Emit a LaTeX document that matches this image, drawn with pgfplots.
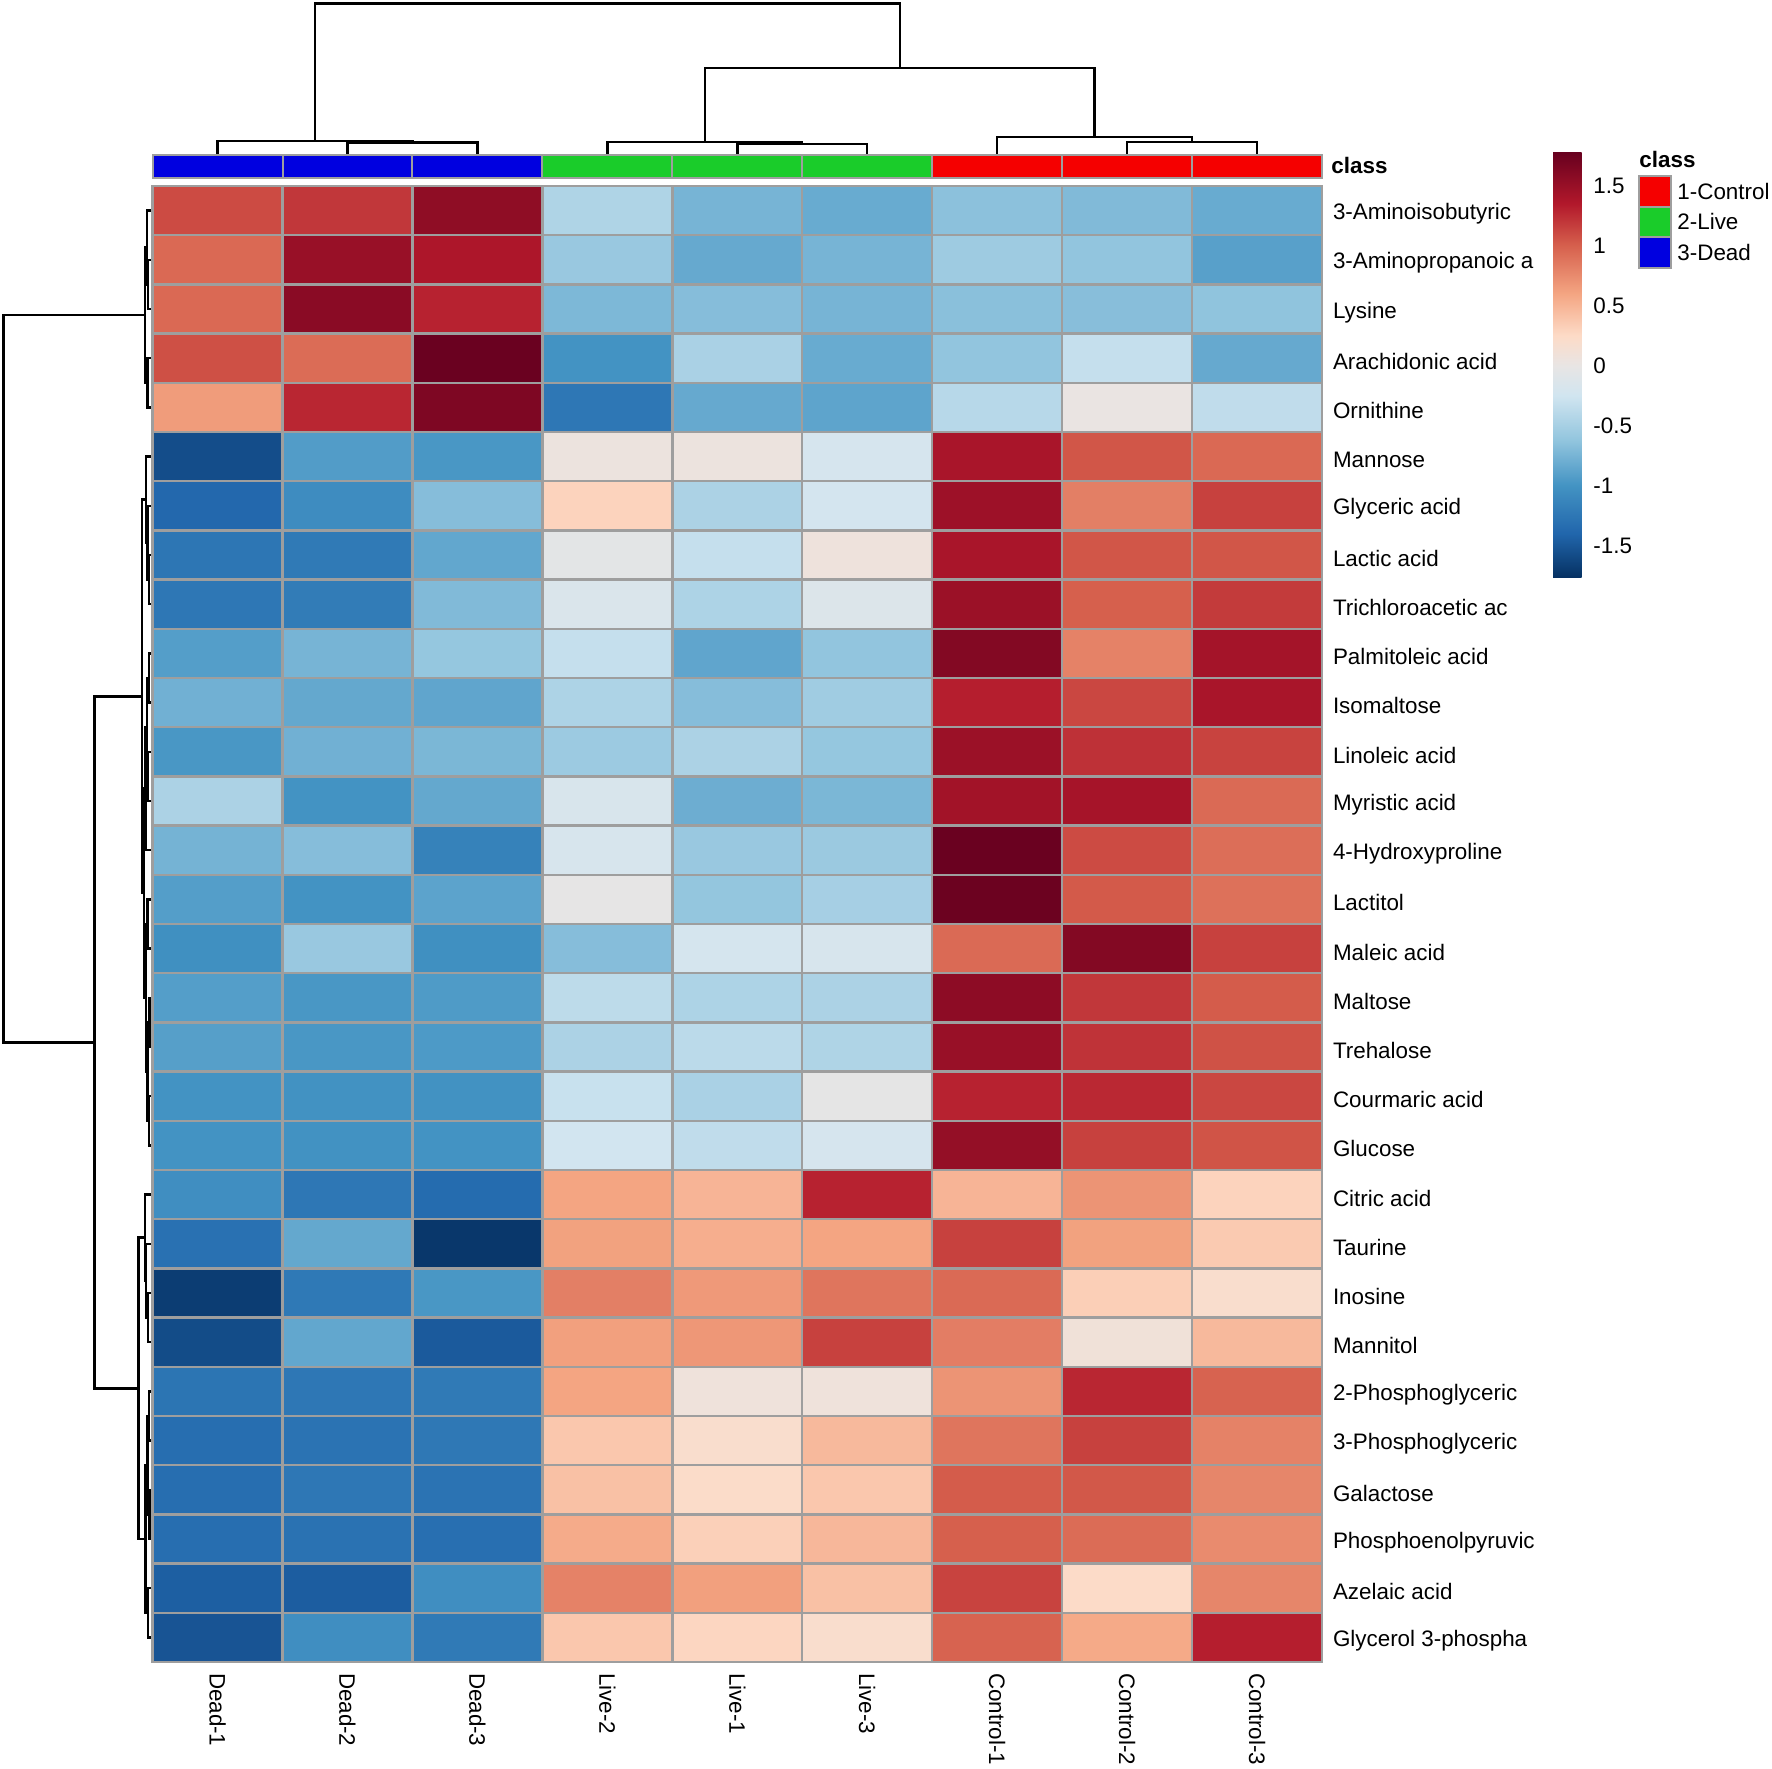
\documentclass[border=0pt]{standalone}
\usepackage{pgfplots}
\pgfplotsset{compat=1.18}
\usetikzlibrary{calc}
\usepackage{fontspec}
\setmainfont{Liberation Sans}
\newcommand\lbl{\fontsize{11.2pt}{13.4pt}\selectfont}
\definecolor{cgray}{RGB}{158,158,158}
\definecolor{cdead}{RGB}{0,0,224}
\definecolor{clive}{RGB}{26,204,42}
\definecolor{cctrl}{RGB}{245,0,0}
\pgfplotsset{dendro/.style={black, line width=1.2pt, line join=miter, line cap=rect}}
\begin{document}
\begin{tikzpicture}
\path (0,0) rectangle (886pt,884pt);
\begin{axis}[
  at={(76.3pt,791pt)}, anchor=north west,
  scale only axis, width=584.7pt, height=738pt,
  xmin=0, xmax=9, ymin=0, ymax=30, clip=false,
  colormap={rdbu}{rgb255(0cm)=(5,48,97); rgb255(0.37cm)=(33,102,172); rgb255(0.77cm)=(67,147,195); rgb255(1.15cm)=(146,197,222); rgb255(1.52cm)=(209,229,240); rgb255(1.77cm)=(232,229,228); rgb255(2.02cm)=(253,219,199); rgb255(2.37cm)=(244,165,130); rgb255(2.77cm)=(214,96,77); rgb255(3.12cm)=(178,24,43); rgb255(3.55cm)=(103,0,31)},
  point meta min=-1.77, point meta max=1.78,
  xtick={0.5,1.5,...,8.5},
  xticklabels={Dead-1,Dead-2,Dead-3,Live-2,Live-1,Live-3,Control-1,Control-2,Control-3},
  ytick={0.5,1.5,...,29.5},
  yticklabels={Glycerol 3-phospha,Azelaic acid,Phosphoenolpyruvic,Galactose,3-Phosphoglyceric,2-Phosphoglyceric,Mannitol,Inosine,Taurine,Citric acid,Glucose,Courmaric acid,Trehalose,Maltose,Maleic acid,Lactitol,4-Hydroxyproline,Myristic acid,Linoleic acid,Isomaltose,Palmitoleic acid,Trichloroacetic ac,Lactic acid,Glyceric acid,Mannose,Ornithine,Arachidonic acid,Lysine,3-Aminopropanoic a,3-Aminoisobutyric},
  major tick length=0pt, minor tick length=0pt,
  minor xtick={0,1,...,9}, minor ytick={0,1,...,30},
  xminorgrids, yminorgrids,
  minor grid style={cgray, line width=1.2pt},
  axis line style={cgray, line width=1.2pt},
  axis on top,
  yticklabel pos=right,
  xticklabel style={font=\lbl, rotate=-90, anchor=west, inner sep=0pt},
  xticklabel shift=5.3pt,
  yticklabel style={font=\lbl, anchor=west, inner sep=0pt, yshift=-1.7pt},
  yticklabel shift=5.3pt,
  colorbar,
  colorbar style={
    at={($(parent axis.north east)+(107pt,17pt)$)}, anchor=north west,
    scale only axis, width=14.5pt, height=213pt,
    ytick={-1.5,-1,-0.5,0,0.5,1,1.5},
    yticklabels={-1.5,-1,-0.5,0,0.5,1,1.5},
    minor ytick={}, minor xtick={}, yminorgrids=false, xminorgrids=false,
    axis line style={draw=none},
    major tick length=0pt,
    yticklabel pos=right,
    yticklabel style={font=\lbl, anchor=west, inner sep=0pt, yshift=0pt},
    yticklabel shift=5.5pt,
  },
]
\addplot[matrix plot*, mesh/cols=9, mesh/rows=30, point meta=explicit]
  table[row sep=\\, meta=c] {
x y c \\
0.5 0.5 -1.52 \\ 1.5 0.5 -1.04 \\ 2.5 0.5 -1.22 \\ 3.5 0.5 0.38 \\ 4.5 0.5 0.28 \\ 5.5 0.5 0.2 \\ 6.5 0.5 0.98 \\ 7.5 0.5 0.57 \\ 8.5 0.5 1.32 \\
0.5 1.5 -1.45 \\ 1.5 1.5 -1.46 \\ 2.5 1.5 -1.04 \\ 3.5 1.5 0.8 \\ 4.5 1.5 0.63 \\ 5.5 1.5 0.42 \\ 6.5 1.5 1.14 \\ 7.5 1.5 0.24 \\ 8.5 1.5 0.78 \\
0.5 2.5 -1.33 \\ 1.5 2.5 -1.29 \\ 2.5 2.5 -1.32 \\ 3.5 2.5 0.56 \\ 4.5 2.5 0.32 \\ 5.5 2.5 0.48 \\ 6.5 2.5 1.0 \\ 7.5 2.5 0.93 \\ 8.5 2.5 0.75 \\
0.5 3.5 -1.33 \\ 1.5 3.5 -1.25 \\ 2.5 3.5 -1.28 \\ 3.5 3.5 0.42 \\ 4.5 3.5 0.23 \\ 5.5 3.5 0.38 \\ 6.5 3.5 1.02 \\ 7.5 3.5 1.04 \\ 8.5 3.5 0.78 \\
0.5 4.5 -1.33 \\ 1.5 4.5 -1.28 \\ 2.5 4.5 -1.24 \\ 3.5 4.5 0.38 \\ 4.5 4.5 0.2 \\ 5.5 4.5 0.47 \\ 6.5 4.5 0.88 \\ 7.5 4.5 1.15 \\ 8.5 4.5 0.8 \\
0.5 5.5 -1.27 \\ 1.5 5.5 -1.25 \\ 2.5 5.5 -1.22 \\ 3.5 5.5 0.6 \\ 4.5 5.5 0.08 \\ 5.5 5.5 0.08 \\ 6.5 5.5 0.7 \\ 7.5 5.5 1.28 \\ 8.5 5.5 0.98 \\
0.5 6.5 -1.58 \\ 1.5 6.5 -0.85 \\ 2.5 6.5 -1.48 \\ 3.5 6.5 0.63 \\ 4.5 6.5 0.68 \\ 5.5 6.5 1.15 \\ 6.5 6.5 0.83 \\ 7.5 6.5 0.1 \\ 8.5 6.5 0.47 \\
0.5 7.5 -1.68 \\ 1.5 7.5 -1.23 \\ 2.5 7.5 -0.97 \\ 3.5 7.5 0.82 \\ 4.5 7.5 0.67 \\ 5.5 7.5 0.88 \\ 6.5 7.5 0.94 \\ 7.5 7.5 0.33 \\ 8.5 7.5 0.2 \\
0.5 8.5 -1.3 \\ 1.5 8.5 -0.84 \\ 2.5 8.5 -1.72 \\ 3.5 8.5 0.62 \\ 4.5 8.5 0.54 \\ 5.5 8.5 0.6 \\ 6.5 8.5 1.15 \\ 7.5 8.5 0.62 \\ 8.5 8.5 0.36 \\
0.5 9.5 -1.04 \\ 1.5 9.5 -1.25 \\ 2.5 9.5 -1.35 \\ 3.5 9.5 0.6 \\ 4.5 9.5 0.5 \\ 5.5 9.5 1.3 \\ 6.5 9.5 0.5 \\ 7.5 9.5 0.7 \\ 8.5 9.5 0.3 \\
0.5 10.5 -1.0 \\ 1.5 10.5 -1.01 \\ 2.5 10.5 -1.0 \\ 3.5 10.5 -0.24 \\ 4.5 10.5 -0.35 \\ 5.5 10.5 -0.2 \\ 6.5 10.5 1.52 \\ 7.5 10.5 1.15 \\ 8.5 10.5 1.06 \\
0.5 11.5 -1.0 \\ 1.5 11.5 -1.01 \\ 2.5 11.5 -1.01 \\ 3.5 11.5 -0.3 \\ 4.5 11.5 -0.48 \\ 5.5 11.5 -0.03 \\ 6.5 11.5 1.3 \\ 7.5 11.5 1.27 \\ 8.5 11.5 1.12 \\
0.5 12.5 -0.91 \\ 1.5 12.5 -0.97 \\ 2.5 12.5 -0.95 \\ 3.5 12.5 -0.47 \\ 4.5 12.5 -0.38 \\ 5.5 12.5 -0.45 \\ 6.5 12.5 1.5 \\ 7.5 12.5 1.22 \\ 8.5 12.5 1.07 \\
0.5 13.5 -0.92 \\ 1.5 13.5 -0.97 \\ 2.5 13.5 -0.94 \\ 3.5 13.5 -0.37 \\ 4.5 13.5 -0.46 \\ 5.5 13.5 -0.47 \\ 6.5 13.5 1.56 \\ 7.5 13.5 1.2 \\ 8.5 13.5 1.02 \\
0.5 14.5 -1.03 \\ 1.5 14.5 -0.58 \\ 2.5 14.5 -1.03 \\ 3.5 14.5 -0.68 \\ 4.5 14.5 -0.21 \\ 5.5 14.5 -0.19 \\ 6.5 14.5 0.94 \\ 7.5 14.5 1.62 \\ 8.5 14.5 1.15 \\
0.5 15.5 -0.92 \\ 1.5 15.5 -1.0 \\ 2.5 15.5 -0.88 \\ 3.5 15.5 -0.02 \\ 4.5 15.5 -0.61 \\ 5.5 15.5 -0.5 \\ 6.5 15.5 1.75 \\ 7.5 15.5 1.03 \\ 8.5 15.5 0.9 \\
0.5 16.5 -0.76 \\ 1.5 16.5 -0.68 \\ 2.5 16.5 -1.15 \\ 3.5 16.5 -0.18 \\ 4.5 16.5 -0.58 \\ 5.5 16.5 -0.57 \\ 6.5 16.5 1.76 \\ 7.5 16.5 1.1 \\ 8.5 16.5 0.92 \\
0.5 17.5 -0.47 \\ 1.5 17.5 -1.0 \\ 2.5 17.5 -0.84 \\ 3.5 17.5 -0.17 \\ 4.5 17.5 -0.8 \\ 5.5 17.5 -0.73 \\ 6.5 17.5 1.44 \\ 7.5 17.5 1.42 \\ 8.5 17.5 0.94 \\
0.5 18.5 -0.97 \\ 1.5 18.5 -0.78 \\ 2.5 18.5 -0.73 \\ 3.5 18.5 -0.56 \\ 4.5 18.5 -0.47 \\ 5.5 18.5 -0.6 \\ 6.5 18.5 1.48 \\ 7.5 18.5 1.23 \\ 8.5 18.5 1.14 \\
0.5 19.5 -0.78 \\ 1.5 19.5 -0.84 \\ 2.5 19.5 -0.86 \\ 3.5 19.5 -0.46 \\ 4.5 19.5 -0.68 \\ 5.5 19.5 -0.54 \\ 6.5 19.5 1.32 \\ 7.5 19.5 1.12 \\ 8.5 19.5 1.4 \\
0.5 20.5 -0.92 \\ 1.5 20.5 -0.75 \\ 2.5 20.5 -0.6 \\ 3.5 20.5 -0.32 \\ 4.5 20.5 -0.86 \\ 5.5 20.5 -0.62 \\ 6.5 20.5 1.62 \\ 7.5 20.5 0.8 \\ 8.5 20.5 1.43 \\
0.5 21.5 -1.25 \\ 1.5 21.5 -1.2 \\ 2.5 21.5 -0.7 \\ 3.5 21.5 -0.15 \\ 4.5 21.5 -0.46 \\ 5.5 21.5 -0.13 \\ 6.5 21.5 1.48 \\ 7.5 21.5 1.0 \\ 8.5 21.5 1.18 \\
0.5 22.5 -1.26 \\ 1.5 22.5 -1.22 \\ 2.5 22.5 -0.85 \\ 3.5 22.5 -0.05 \\ 4.5 22.5 -0.32 \\ 5.5 22.5 0.07 \\ 6.5 22.5 1.4 \\ 7.5 22.5 1.05 \\ 8.5 22.5 1.05 \\
0.5 23.5 -1.38 \\ 1.5 23.5 -1.06 \\ 2.5 23.5 -0.68 \\ 3.5 23.5 0.3 \\ 4.5 23.5 -0.47 \\ 5.5 23.5 -0.22 \\ 6.5 23.5 1.47 \\ 7.5 23.5 0.82 \\ 8.5 23.5 1.15 \\
0.5 24.5 -1.57 \\ 1.5 24.5 -0.93 \\ 2.5 24.5 -0.97 \\ 3.5 24.5 0.05 \\ 4.5 24.5 0.05 \\ 5.5 24.5 -0.2 \\ 6.5 24.5 1.4 \\ 7.5 24.5 1.05 \\ 8.5 24.5 0.95 \\
0.5 25.5 0.65 \\ 1.5 25.5 1.28 \\ 2.5 25.5 1.65 \\ 3.5 25.5 -1.25 \\ 4.5 25.5 -0.83 \\ 5.5 25.5 -0.87 \\ 6.5 25.5 -0.4 \\ 7.5 25.5 0.02 \\ 8.5 25.5 -0.35 \\
0.5 26.5 1.08 \\ 1.5 26.5 0.93 \\ 2.5 26.5 1.76 \\ 3.5 26.5 -1.0 \\ 4.5 26.5 -0.48 \\ 5.5 26.5 -0.82 \\ 6.5 26.5 -0.62 \\ 7.5 26.5 -0.32 \\ 8.5 26.5 -0.83 \\
0.5 27.5 0.95 \\ 1.5 27.5 1.58 \\ 2.5 27.5 1.3 \\ 3.5 27.5 -0.72 \\ 4.5 27.5 -0.68 \\ 5.5 27.5 -0.75 \\ 6.5 27.5 -0.66 \\ 7.5 27.5 -0.67 \\ 8.5 27.5 -0.63 \\
0.5 28.5 0.95 \\ 1.5 28.5 1.5 \\ 2.5 28.5 1.38 \\ 3.5 28.5 -0.58 \\ 4.5 28.5 -0.83 \\ 5.5 28.5 -0.75 \\ 6.5 28.5 -0.55 \\ 7.5 28.5 -0.62 \\ 8.5 28.5 -0.9 \\
0.5 29.5 1.1 \\ 1.5 29.5 1.2 \\ 2.5 29.5 1.55 \\ 3.5 29.5 -0.45 \\ 4.5 29.5 -0.75 \\ 5.5 29.5 -0.82 \\ 6.5 29.5 -0.65 \\ 7.5 29.5 -0.7 \\ 8.5 29.5 -0.82 \\
};
% class bar
\addplot[fill=cdead, draw=cgray, line width=1pt] coordinates {(0,30.16) (1,30.16) (1,30.63) (0,30.63)} -- cycle;
\addplot[fill=cdead, draw=cgray, line width=1pt] coordinates {(1,30.16) (2,30.16) (2,30.63) (1,30.63)} -- cycle;
\addplot[fill=cdead, draw=cgray, line width=1pt] coordinates {(2,30.16) (3,30.16) (3,30.63) (2,30.63)} -- cycle;
\addplot[fill=clive, draw=cgray, line width=1pt] coordinates {(3,30.16) (4,30.16) (4,30.63) (3,30.63)} -- cycle;
\addplot[fill=clive, draw=cgray, line width=1pt] coordinates {(4,30.16) (5,30.16) (5,30.63) (4,30.63)} -- cycle;
\addplot[fill=clive, draw=cgray, line width=1pt] coordinates {(5,30.16) (6,30.16) (6,30.63) (5,30.63)} -- cycle;
\addplot[fill=cctrl, draw=cgray, line width=1pt] coordinates {(6,30.16) (7,30.16) (7,30.63) (6,30.63)} -- cycle;
\addplot[fill=cctrl, draw=cgray, line width=1pt] coordinates {(7,30.16) (8,30.16) (8,30.63) (7,30.63)} -- cycle;
\addplot[fill=cctrl, draw=cgray, line width=1pt] coordinates {(8,30.16) (9,30.16) (9,30.63) (8,30.63)} -- cycle;
% column dendrogram
\addplot[dendro] coordinates {(1.5,30.68) (1.5,30.88) (2.5,30.88) (2.5,30.68)};
\addplot[dendro] coordinates {(0.5,30.68) (0.5,30.92) (2.0,30.92) (2.0,30.88)};
\addplot[dendro] coordinates {(4.5,30.68) (4.5,30.85) (5.5,30.85) (5.5,30.68)};
\addplot[dendro] coordinates {(3.5,30.68) (3.5,30.89) (5.0,30.89) (5.0,30.85)};
\addplot[dendro] coordinates {(7.5,30.68) (7.5,30.89) (8.5,30.89) (8.5,30.68)};
\addplot[dendro] coordinates {(6.5,30.68) (6.5,30.99) (8.0,30.99) (8.0,30.89)};
\addplot[dendro] coordinates {(4.25,30.89) (4.25,32.40) (7.25,32.40) (7.25,30.99)};
\addplot[dendro] coordinates {(1.25,30.92) (1.25,33.71) (5.75,33.71) (5.75,32.40)};
% row dendrogram
\addplot[dendro] coordinates {(-0.02,28.5) (-0.035,28.5) (-0.035,27.5) (-0.02,27.5)};
\addplot[dendro] coordinates {(-0.02,29.5) (-0.045,29.5) (-0.045,28.0) (-0.035,28.0)};
\addplot[dendro] coordinates {(-0.02,26.5) (-0.04,26.5) (-0.04,25.5) (-0.02,25.5)};
\addplot[dendro] coordinates {(-0.045,28.75) (-0.06,28.75) (-0.06,26.0) (-0.04,26.0)};
\addplot[dendro] coordinates {(-0.02,22.5) (-0.03,22.5) (-0.03,21.5) (-0.02,21.5)};
\addplot[dendro] coordinates {(-0.02,23.5) (-0.04,23.5) (-0.04,22.0) (-0.03,22.0)};
\addplot[dendro] coordinates {(-0.02,24.5) (-0.05,24.5) (-0.05,22.75) (-0.04,22.75)};
\addplot[dendro] coordinates {(-0.02,20.5) (-0.03,20.5) (-0.03,19.5) (-0.02,19.5)};
\addplot[dendro] coordinates {(-0.02,18.5) (-0.035,18.5) (-0.035,17.5) (-0.02,17.5)};
\addplot[dendro] coordinates {(-0.03,20.0) (-0.045,20.0) (-0.045,18.0) (-0.035,18.0)};
\addplot[dendro] coordinates {(-0.045,19.0) (-0.055,19.0) (-0.055,16.5) (-0.02,16.5)};
\addplot[dendro] coordinates {(-0.02,15.5) (-0.04,15.5) (-0.04,14.5) (-0.02,14.5)};
\addplot[dendro] coordinates {(-0.02,13.5) (-0.025,13.5) (-0.025,12.5) (-0.02,12.5)};
\addplot[dendro] coordinates {(-0.02,11.5) (-0.03,11.5) (-0.03,10.5) (-0.02,10.5)};
\addplot[dendro] coordinates {(-0.025,13.0) (-0.04,13.0) (-0.04,11.0) (-0.03,11.0)};
\addplot[dendro] coordinates {(-0.04,15.0) (-0.05,15.0) (-0.05,12.0) (-0.04,12.0)};
\addplot[dendro] coordinates {(-0.055,17.75) (-0.065,17.75) (-0.065,13.5) (-0.05,13.5)};
\addplot[dendro] coordinates {(-0.05,23.625) (-0.08,23.625) (-0.08,15.625) (-0.065,15.625)};
\addplot[dendro] coordinates {(-0.02,7.5) (-0.035,7.5) (-0.035,6.5) (-0.02,6.5)};
\addplot[dendro] coordinates {(-0.02,8.5) (-0.05,8.5) (-0.05,7.0) (-0.035,7.0)};
\addplot[dendro] coordinates {(-0.02,9.5) (-0.06,9.5) (-0.06,7.75) (-0.05,7.75)};
\addplot[dendro] coordinates {(-0.02,5.5) (-0.03,5.5) (-0.03,4.5) (-0.02,4.5)};
\addplot[dendro] coordinates {(-0.02,3.5) (-0.025,3.5) (-0.025,2.5) (-0.02,2.5)};
\addplot[dendro] coordinates {(-0.03,5.0) (-0.04,5.0) (-0.04,3.0) (-0.025,3.0)};
\addplot[dendro] coordinates {(-0.02,1.5) (-0.035,1.5) (-0.035,0.5) (-0.02,0.5)};
\addplot[dendro] coordinates {(-0.04,4.0) (-0.055,4.0) (-0.055,1.0) (-0.035,1.0)};
\addplot[dendro] coordinates {(-0.06,8.625) (-0.108,8.625) (-0.108,2.5) (-0.055,2.5)};
\addplot[dendro] coordinates {(-0.08,19.625) (-0.447,19.625) (-0.447,5.5625) (-0.108,5.5625)};
\addplot[dendro] coordinates {(-0.06,27.375) (-1.148,27.375) (-1.148,12.59) (-0.447,12.59)};
\end{axis}
% labels and legend
\node[font=\lbl\bfseries, anchor=base west, inner sep=0pt] at (665.5pt,797pt) {class};
\node[font=\lbl\bfseries, anchor=base west, inner sep=0pt] at (819.5pt,800.2pt) {class};
\draw[cgray, line width=1pt, fill=cctrl] (819.5pt,780.5pt) rectangle (835.5pt,796pt);
\draw[cgray, line width=1pt, fill=clive] (819.5pt,765.5pt) rectangle (835.5pt,780.5pt);
\draw[cgray, line width=1pt, fill=cdead] (819.5pt,750pt) rectangle (835.5pt,765.5pt);
\node[font=\lbl, anchor=west, inner sep=0pt] at (838.5pt,788.25pt) {1-Control};
\node[font=\lbl, anchor=west, inner sep=0pt] at (838.5pt,773pt) {2-Live};
\node[font=\lbl, anchor=west, inner sep=0pt] at (838.5pt,757.75pt) {3-Dead};
\end{tikzpicture}
\end{document}
